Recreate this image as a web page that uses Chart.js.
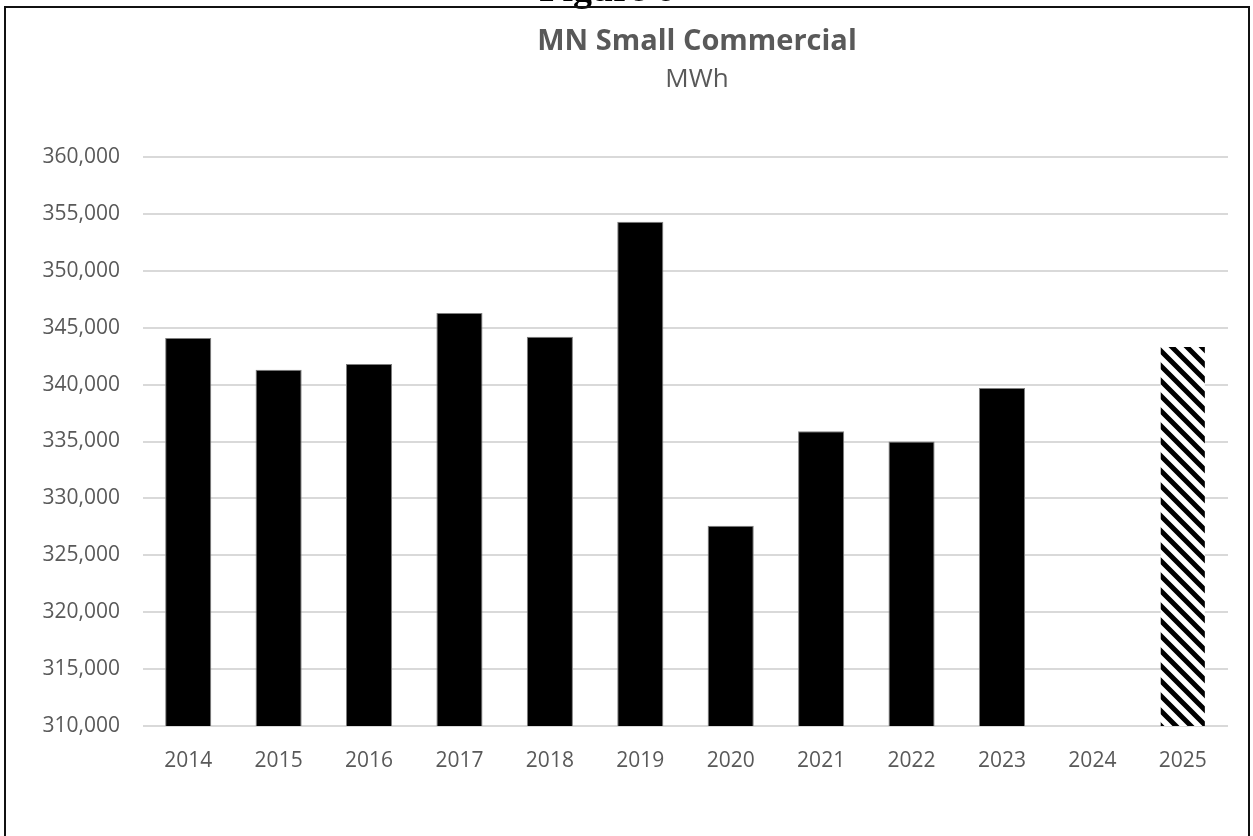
<!DOCTYPE html>
<html>
<head>
<meta charset="utf-8">
<script src="https://cdn.jsdelivr.net/npm/chart.js@4.4.1/dist/chart.umd.min.js"></script>
<style>
    body { margin: 0; background: #fff; overflow: hidden; }
    #wrap { position: relative; width: 1253px; height: 836px; }
    #myChart { position: absolute; left: 0; top: 0; }
    /* page frame round the figure */
    #frame {
        position: absolute; left: 4px; top: 6px; width: 1246px; height: 900px;
        box-sizing: border-box; border: 2px solid #111; pointer-events: none;
    }
    #figLabel {
        position: absolute; left: 0; width: 1214px; top: -31px; text-align: center;
        font: bold 38px "Liberation Serif", "DejaVu Serif", serif; line-height: 38px; color: #000;
    }
</style>
</head>
<body>
<div id="wrap">
    <canvas id="myChart" width="1253" height="836"></canvas>
    <div id="figLabel">Figure 6</div>
    <div id="frame"></div>
</div>
<script>
// yearly sales, small commercial class
const years = ['2014', '2015', '2016', '2017', '2018', '2019', '2020', '2021', '2022', '2023', '2024', '2025'];
const mwh = [344100, 341300, 341800, 346300, 344200, 354300, 327600, 335900, 335000, 339700, null, 343400];
const forecastYears = ['2025']; // drawn hatched

const chartTitle = 'MN Small Commercial';
const chartUnits = 'MWh';

const yMin = 310000;
const yMax = 360000;
const yStep = 5000;

const textGray = '#595959';
const fontFamily = '"Open Sans", "Liberation Sans", sans-serif';

// diagonal hatch for the forecast bar
function makeHatch() {
    var size = 15;
    var c = document.createElement('canvas');
    c.width = size;
    c.height = size;
    var ctx = c.getContext('2d');
    ctx.fillStyle = '#fff';
    ctx.fillRect(0, 0, size, size);
    ctx.strokeStyle = '#000';
    ctx.lineWidth = 5;
    ctx.beginPath();
    ctx.moveTo(-size, -size); ctx.lineTo(size * 2, size * 2);
    ctx.moveTo(-size, 0); ctx.lineTo(size, size * 2);
    ctx.moveTo(0, -size); ctx.lineTo(size * 2, size);
    ctx.stroke();
    return ctx.createPattern(c, 'repeat');
}

// title sits a bit right of the canvas centre, so draw it ourselves
const headingPlugin = {
    id: 'heading',
    afterDraw: function(chart) {
        var ctx = chart.ctx;
        ctx.save();
        ctx.fillStyle = textGray;
        ctx.textAlign = 'center';
        ctx.textBaseline = 'middle';
        ctx.font = 'bold 29px ' + fontFamily;
        ctx.fillText(chartTitle, 697, 42);
        ctx.font = '26px ' + fontFamily;
        ctx.fillText(chartUnits, 697, 80);
        ctx.restore();
    }
};

function displayGraph(xlabels, yvalues) {
    var grapharea = document.getElementById('myChart');
    var hatch = makeHatch();
    var fills = xlabels.map(function(y) { return forecastYears.includes(y) ? hatch : '#000'; });
    var edges = xlabels.map(function(y) { return forecastYears.includes(y) ? 'rgba(0,0,0,0)' : '#7f7f7f'; });

    const data = {
        labels: xlabels,
        datasets: [{
            label: chartUnits,
            backgroundColor: fills,
            borderColor: edges,
            borderWidth: 1,
            categoryPercentage: 0.51,
            barPercentage: 1,
            data: yvalues
        }]
    };
    const config = {
        type: 'bar',
        data: data,
        plugins: [headingPlugin],
        options: {
            responsive: false,
            animation: false,
            devicePixelRatio: 1,
            layout: { padding: { left: 0, right: 25, top: 157, bottom: 0 } },
            plugins: {
                legend: { display: false },
                tooltip: { enabled: false },
                title: { display: false }
            },
            scales: {
                x: {
                    grid: { display: false },
                    border: { display: false },
                    ticks: {
                        color: textGray,
                        font: { family: fontFamily, size: 21 },
                        padding: 14,
                        maxRotation: 0
                    },
                    afterFit: function(s) { s.height = 110; }
                },
                y: {
                    min: yMin,
                    max: yMax,
                    border: { display: false },
                    grid: { color: '#d9d9d9', lineWidth: 2, drawTicks: false },
                    ticks: {
                        stepSize: yStep,
                        color: textGray,
                        font: { family: fontFamily, size: 21 },
                        padding: 23,
                        callback: function(v) { return v.toLocaleString('en-US'); }
                    },
                    afterFit: function(s) { s.width = 143; }
                }
            }
        }
    };
    const myChart = new Chart(grapharea, config);
}

displayGraph(years, mwh);
</script>
</body>
</html>
